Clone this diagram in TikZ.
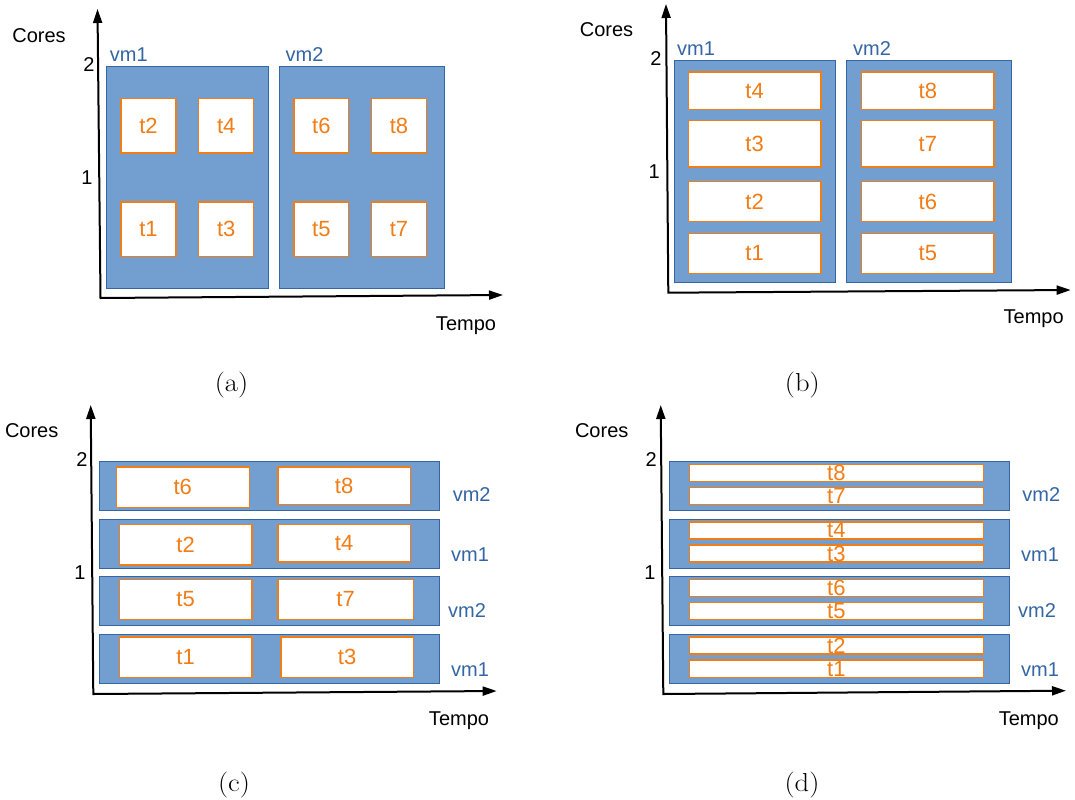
\documentclass[tikz,border=0pt]{standalone}
\usepackage{fontspec}
\setmainfont{Liberation Sans}
\newfontfamily\capfont{Latin Modern Roman}
\usetikzlibrary{arrows.meta}

\definecolor{vmfill}{HTML}{729FCF}
\definecolor{vmdraw}{HTML}{3465A4}
\definecolor{vmtext}{HTML}{3465A4}
\definecolor{taskorange}{RGB}{240,125,22}

% box node from corner (x1,y1) to corner (x2,y2), all in px
\newcommand\pxbox[7]{%
  \pgfmathsetmacro\bw{(#5-#3)*0.75}%
  \pgfmathsetmacro\bh{(#6-#4)*0.75}%
  \node[#1, minimum width=\bw pt, minimum height=\bh pt] (#2) at ({(#3+#5)/2},{(#4+#6)/2}) {};}

\tikzset{
  vmbox/.style={draw=vmdraw, fill=vmfill, line width=0.75pt, inner sep=0pt, outer sep=0pt, rectangle},
  taskbox/.style={draw=taskorange, fill=white, line width=1.1pt, inner sep=0pt, outer sep=0pt, rectangle,
    label={[font=\fontsize{16.5}{19}\selectfont, text=taskorange, inner sep=0pt]center:#1}},
  axis/.style={line width=1.5pt, {Triangle[length=10.5pt,width=6.75pt]}-{Triangle[length=10.5pt,width=6.75pt]}},
  axlabel/.style={anchor=base, inner sep=0pt, font=\fontsize{15}{18}\selectfont},
  vmlabel/.style={anchor=base, inner sep=0pt, text=vmtext, font=\fontsize{15}{18}\selectfont},
  caption/.style={anchor=base, inner sep=0pt, font=\capfont\fontsize{19.5}{22}\selectfont, xscale=1.1},
}

\begin{document}
\begin{tikzpicture}[x=0.75pt, y=-0.75pt]
\useasboundingbox (0,0) rectangle (1075,800);

% ---------------- (a) ----------------
\pxbox{vmbox}{a-vm1}{106.7}{66.3}{268.3}{288.3}{}
\pxbox{vmbox}{a-vm2}{279.3}{66.3}{444}{288.3}{}
\pxbox{taskbox=t2}{a-t2}{121}{98.3}{176}{153}{}
\pxbox{taskbox=t4}{a-t4}{198.7}{98.3}{253.7}{153}{}
\pxbox{taskbox=t1}{a-t1}{121}{202}{176}{256.7}{}
\pxbox{taskbox=t3}{a-t3}{198.7}{202}{253.7}{256.7}{}
\pxbox{taskbox=t6}{a-t6}{294}{98.3}{348.7}{153}{}
\pxbox{taskbox=t8}{a-t8}{371.7}{98.3}{426.3}{153}{}
\pxbox{taskbox=t5}{a-t5}{294}{202}{348.7}{256.7}{}
\pxbox{taskbox=t7}{a-t7}{371.7}{202}{426.3}{256.7}{}
\coordinate (a-o) at (100.5,298);
\coordinate (a-y) at (97.5,9);
\coordinate (a-x) at (503,295);
\draw[axis] (a-y) -- (a-o) -- (a-x);
\node[axlabel] (a-cores) at (39,42) {Cores};
\node[axlabel] (a-two) at (89,71) {2};
\node[axlabel] (a-one) at (87,184) {1};
\node[axlabel] (a-tempo) at (466,330) {Tempo};
\node[vmlabel] (a-l1) at (128.8,61.7) {vm1};
\node[vmlabel] (a-l2) at (304.5,61.7) {vm2};
\node[caption] (a-cap) at (231.5,391) {(a)};

% ---------------- (b) ----------------
\pxbox{vmbox}{b-vm1}{674}{60.3}{835.7}{282.3}{}
\pxbox{vmbox}{b-vm2}{846.7}{60.3}{1011.3}{282.3}{}
\pxbox{taskbox=t4}{b-t4}{688.3}{72}{821}{109.3}{}
\pxbox{taskbox=t3}{b-t3}{688.3}{120.7}{821}{167}{}
\pxbox{taskbox=t2}{b-t2}{688.3}{181.7}{821}{221.7}{}
\pxbox{taskbox=t1}{b-t1}{688.3}{233.3}{821}{273.3}{}
\pxbox{taskbox=t8}{b-t8}{861.7}{72}{994}{109.3}{}
\pxbox{taskbox=t7}{b-t7}{861.7}{120.7}{994}{167}{}
\pxbox{taskbox=t6}{b-t6}{861.7}{181.7}{994}{221.7}{}
\pxbox{taskbox=t5}{b-t5}{861.7}{233.3}{994}{273.3}{}
\coordinate (b-o) at (668.3,292.7);
\coordinate (b-y) at (666,4);
\coordinate (b-x) at (1070.7,290);
\draw[axis] (b-y) -- (b-o) -- (b-x);
\node[axlabel] (b-cores) at (606.5,36) {Cores};
\node[axlabel] (b-two) at (656,65.7) {2};
\node[axlabel] (b-one) at (654.3,178.3) {1};
\node[axlabel] (b-tempo) at (1033.7,323.3) {Tempo};
\node[vmlabel] (b-l1) at (696,55.3) {vm1};
\node[vmlabel] (b-l2) at (872,55.3) {vm2};
\node[caption] (b-cap) at (802.3,391) {(b)};

% ---------------- (c) ----------------
\pxbox{vmbox}{c-r4}{99.3}{461.3}{439.3}{510.3}{}
\pxbox{vmbox}{c-r3}{99.3}{519}{439.3}{568}{}
\pxbox{vmbox}{c-r2}{99.3}{576.7}{439.3}{625.3}{}
\pxbox{vmbox}{c-r1}{99.3}{634}{439.3}{683}{}
\pxbox{taskbox=t6}{c-t6}{116.3}{467}{249.3}{507.3}{}
\pxbox{taskbox=t8}{c-t8}{278}{467}{410.3}{504.3}{}
\pxbox{taskbox=t2}{c-t2}{119.3}{524.7}{252}{565}{}
\pxbox{taskbox=t4}{c-t4}{278}{524.7}{410.3}{562}{}
\pxbox{taskbox=t5}{c-t5}{119.3}{579.3}{252}{619.7}{}
\pxbox{taskbox=t7}{c-t7}{278}{579.3}{413.3}{619.7}{}
\pxbox{taskbox=t1}{c-t1}{119.3}{637}{252}{677.3}{}
\pxbox{taskbox=t3}{c-t3}{281}{637}{413.3}{677.3}{}
\coordinate (c-o) at (93.3,694);
\coordinate (c-y) at (90.7,405);
\coordinate (c-x) at (496.7,691);
\draw[axis] (c-y) -- (c-o) -- (c-x);
\node[axlabel] (c-cores) at (31.7,437.3) {Cores};
\node[axlabel] (c-two) at (82,466) {2};
\node[axlabel] (c-one) at (80,579) {1};
\node[axlabel] (c-tempo) at (459,725) {Tempo};
\node[vmlabel] (c-l4) at (471.7,501) {vm2};
\node[vmlabel] (c-l3) at (470,561) {vm1};
\node[vmlabel] (c-l2) at (467,617.7) {vm2};
\node[vmlabel] (c-l1) at (470,676) {vm1};
\node[caption] (c-cap) at (234,791) {(c)};

% ---------------- (d) ----------------
\pxbox{vmbox}{d-r4}{669.3}{461.3}{1009.3}{510.3}{}
\pxbox{vmbox}{d-r3}{669.3}{519}{1009.3}{568}{}
\pxbox{vmbox}{d-r2}{669.3}{576.7}{1009.3}{625.3}{}
\pxbox{vmbox}{d-r1}{669.3}{634}{1009.3}{683}{}
\pxbox{taskbox=t8}{d-t8}{689.3}{464.3}{983.3}{481.3}{}
\pxbox{taskbox=t7}{d-t7}{689.3}{487.3}{983.3}{504.3}{}
\pxbox{taskbox=t4}{d-t4}{689.3}{522}{983.3}{539}{}
\pxbox{taskbox=t3}{d-t3}{689.3}{545}{983.3}{562}{}
\pxbox{taskbox=t6}{d-t6}{689.3}{579.3}{983.3}{596.7}{}
\pxbox{taskbox=t5}{d-t5}{689.3}{602.3}{983.3}{619.7}{}
\pxbox{taskbox=t2}{d-t2}{689.3}{637}{983.3}{654}{}
\pxbox{taskbox=t1}{d-t1}{689.3}{660}{983.3}{677.3}{}
\coordinate (d-o) at (663.3,694);
\coordinate (d-y) at (660.7,405);
\coordinate (d-x) at (1066,690.7);
\draw[axis] (d-y) -- (d-o) -- (d-x);
\node[axlabel] (d-cores) at (601.7,437.3) {Cores};
\node[axlabel] (d-two) at (651.3,466) {2};
\node[axlabel] (d-one) at (650,579) {1};
\node[axlabel] (d-tempo) at (1028.8,725) {Tempo};
\node[vmlabel] (d-l4) at (1041.3,501) {vm2};
\node[vmlabel] (d-l3) at (1040,561) {vm1};
\node[vmlabel] (d-l2) at (1037,617.7) {vm2};
\node[vmlabel] (d-l1) at (1040,676) {vm1};
\node[caption] (d-cap) at (802,791) {(d)};
\end{tikzpicture}
\end{document}
